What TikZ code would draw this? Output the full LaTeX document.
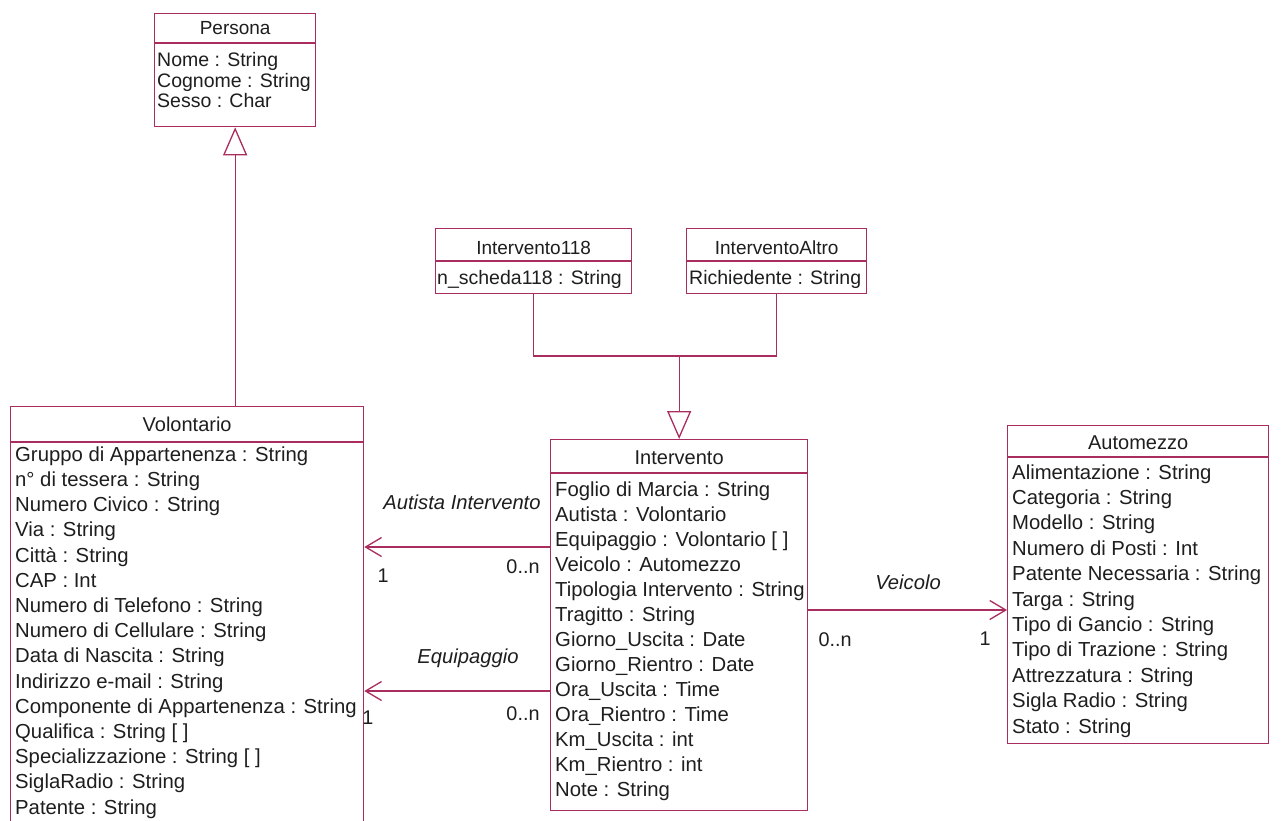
\documentclass[tikz,border=0pt]{standalone}
\usepackage{fontspec}
\setmainfont{Liberation Sans}
\usetikzlibrary{arrows.meta}
\definecolor{umlc}{RGB}{170,45,95}
\definecolor{txtc}{RGB}{30,30,30}
\tikzset{
  cls/.style={draw=umlc, line width=1.3pt, fill=white, inner sep=0pt, anchor=north west},
  sep/.style={draw=umlc, line width=1.3pt},
  wire/.style={draw=umlc, line width=1.3pt},
  gen/.style={draw=umlc, line width=1.3pt, -{Triangle[open, length=28pt, width=24pt, fill=white]}},
  assoc/.style={draw=umlc, line width=1.3pt, -{Straight Barb[length=16pt, width=19pt]}},
  attr/.style={anchor=base west, inner sep=0pt, text=txtc, font=\fontsize{20.3}{24}\selectfont},
  attrs/.style={anchor=base west, inner sep=0pt, text=txtc, font=\fontsize{19.5}{22}\selectfont},
  hdr/.style={anchor=base, inner sep=0pt, text=txtc, font=\fontsize{20}{24}\selectfont},
  hdrs/.style={anchor=base, inner sep=0pt, text=txtc, font=\fontsize{19}{22}\selectfont},
  lbl/.style={anchor=center, inner sep=0pt, text=txtc, font=\fontsize{20.2}{24}\selectfont\itshape},
  mult/.style={anchor=center, inner sep=0pt, text=txtc, font=\fontsize{19.8}{24}\selectfont},
}
\begin{document}
\begin{tikzpicture}[x=1pt, y=-1pt]
\useasboundingbox (0,0) rectangle (1281,820);
\fill[white] (0,0) rectangle (1281,820);
\clip (0,0) rectangle (1281,820);

% Persona
\node[cls, minimum width=161pt, minimum height=113pt] (per) at (154,13) {};
\draw[sep] (per.west |- 0,43) -- (per.east |- 0,43);
\node[hdrs] (perh) at (per.center |- 0,34) {Persona};
\foreach \t [count=\i] in {Nome : String, Cognome : String, Sesso : Char}
  \node[attrs] (pera\i) at (157,{46+20.5*\i}) {\t};

% Intervento118
\node[cls, minimum width=196pt, minimum height=65pt] (i118) at (435,228) {};
\draw[sep] (i118.west |- 0,261) -- (i118.east |- 0,261);
\node[hdrs] (i118h) at (i118.center |- 0,254) {Intervento118};
\node[attrs] (i118a) at (437,284) {n\_scheda118 : String};

% InterventoAltro
\node[cls, minimum width=180pt, minimum height=65pt] (ialt) at (686,228) {};
\draw[sep] (ialt.west |- 0,261) -- (ialt.east |- 0,261);
\node[hdrs] (ialth) at (ialt.center |- 0,254) {InterventoAltro};
\node[attrs] (ialta) at (689,284) {Richiedente : String};

% Volontario
\node[cls, minimum width=353pt, minimum height=430pt] (vol) at (10,406) {};
\draw[sep] (vol.west |- 0,442) -- (vol.east |- 0,442);
\node[hdr] (volh) at (vol.center |- 0,431) {Volontario};
\foreach \t [count=\i] in {Gruppo di Appartenenza : String, n° di tessera : String, Numero Civico : String, Via : String, Città : String, CAP : Int, Numero di Telefono : String, Numero di Cellulare : String, Data di Nascita : String, Indirizzo e-mail : String, Componente di Appartenenza : String, Qualifica : String [ ], Specializzazione : String [ ], SiglaRadio : String, Patente : String}
  \node[attr] (vola\i) at (15,{436+25.2*\i}) {\t};

% Intervento
\node[cls, minimum width=257pt, minimum height=371pt] (int) at (550,439) {};
\draw[sep] (int.west |- 0,473) -- (int.east |- 0,473);
\node[hdr] (inth) at (int.center |- 0,464) {Intervento};
\foreach \t [count=\i] in {Foglio di Marcia : String, Autista : Volontario, Equipaggio : Volontario [ ], Veicolo : Automezzo, Tipologia Intervento : String, Tragitto : String, Giorno\_Uscita : Date, Giorno\_Rientro : Date, Ora\_Uscita : Time, Ora\_Rientro : Time, Km\_Uscita : int, Km\_Rientro : int, Note : String}
  \node[attr] (inta\i) at (555,{471+25*\i}) {\t};

% Automezzo
\node[cls, minimum width=261pt, minimum height=318pt] (aut) at (1007,425) {};
\draw[sep] (aut.west |- 0,457) -- (aut.east |- 0,457);
\node[hdr] (auth) at (aut.center |- 0,449) {Automezzo};
\foreach \t [count=\i] in {Alimentazione : String, Categoria : String, Modello : String, Numero di Posti : Int, Patente Necessaria : String, Targa : String, Tipo di Gancio : String, Tipo di Trazione : String, Attrezzatura : String, Sigla Radio : String, Stato : String}
  \node[attr] (auta\i) at (1012,{453.6+25.4*\i}) {\t};

% Generalizations
\draw[gen] (vol.north -| per.south) -- (per.south);
\coordinate (j) at (int.north |- 0,356);
\draw[wire] (i118.south) |- (j) -| (ialt.south);
\draw[gen] (j) -- (int.north);

% Associations
\draw[assoc] (int.west |- 0,547) -- (vol.east |- 0,547);
\draw[assoc] (int.west |- 0,691) -- (vol.east |- 0,691);
\draw[assoc] (int.east |- 0,610) -- (aut.west |- 0,610);

\node[lbl] (l1) at (462,502) {Autista Intervento};
\node[mult] (m1) at (383,576) {1};
\node[mult] (m2) at (523,567) {0..n};
\node[lbl] (l2) at (468,658) {Equipaggio};
\node[mult] (m3) at (368,718) {1};
\node[mult] (m4) at (523,714) {0..n};
\node[lbl] (l3) at (908,582) {Veicolo};
\node[mult] (m5) at (835,640) {0..n};
\node[mult] (m6) at (985,639) {1};
\end{tikzpicture}
\end{document}
